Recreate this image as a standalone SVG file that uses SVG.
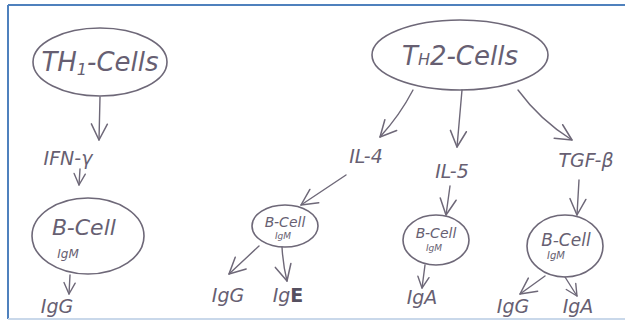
<svg xmlns="http://www.w3.org/2000/svg" width="625" height="327" viewBox="0 0 625 327">
<defs>
<marker id="v" viewBox="0 0 20 20" refX="18" refY="10" markerWidth="20" markerHeight="20" markerUnits="userSpaceOnUse" orient="auto">
<path d="M2,2 L18,10 L2,18" fill="none" stroke="#6e6878" stroke-width="1.5" stroke-linecap="round" stroke-linejoin="round"/>
</marker>
<marker id="vs" viewBox="0 0 20 20" refX="18" refY="10" markerWidth="14" markerHeight="14" markerUnits="userSpaceOnUse" orient="auto">
<path d="M2,2 L18,10 L2,18" fill="none" stroke="#6e6878" stroke-width="2" stroke-linecap="round" stroke-linejoin="round"/>
</marker>
</defs>
<style>
.cell{fill:none;stroke:#6e6878;stroke-width:1.6}
.t{font-family:"DejaVu Sans","Liberation Sans",sans-serif;font-style:italic;fill:#675f72}
.big{font-size:26px}
.lab{font-size:19px}
.sm{font-size:12px}
.c{fill:none;stroke:#6e6878;stroke-width:1.4;stroke-linecap:round}
</style>
<rect x="0" y="0" width="625" height="327" fill="#ffffff"/>
<line x1="8" y1="5" x2="625" y2="5" stroke="#4f81bd" stroke-width="2"/>
<line x1="8" y1="5" x2="8" y2="319" stroke="#4f81bd" stroke-width="2"/>
<line x1="8" y1="319" x2="625" y2="319" stroke="#c9d8ea" stroke-width="2"/>

<g id="th1">
<ellipse class="cell" cx="100" cy="62" rx="67" ry="34"/>
<text class="t big" x="100" y="71" text-anchor="middle">TH<tspan font-size="16" dy="4">1</tspan><tspan dy="-4">-Cells</tspan></text>
</g>
<g id="ifn"><text class="t lab" x="68" y="165" text-anchor="middle">IFN-γ</text></g>
<g id="bcell1">
<ellipse class="cell" cx="88" cy="236" rx="56" ry="38"/>
<text class="t" font-size="22" x="84" y="235" text-anchor="middle">B-Cell</text>
<text class="t sm" x="68" y="258" text-anchor="middle">IgM</text>
</g>
<g id="igg1"><text class="t lab" x="57" y="313" text-anchor="middle">IgG</text></g>

<g id="th2">
<ellipse class="cell" cx="460" cy="55" rx="88" ry="35"/>
<text class="t big" x="460" y="65" text-anchor="middle">T<tspan font-size="16">H</tspan>2-Cells</text>
</g>
<g id="il4"><text class="t lab" x="366" y="163" text-anchor="middle">IL-4</text></g>
<g id="il5"><text class="t lab" x="452" y="178" text-anchor="middle">IL-5</text></g>
<g id="tgf"><text class="t lab" x="586" y="167" text-anchor="middle">TGF-β</text></g>

<g id="bcell2">
<ellipse class="cell" cx="285" cy="226" rx="33" ry="21"/>
<text class="t" font-size="14" x="285" y="227" text-anchor="middle">B-Cell</text>
<text class="t" font-size="9" x="283" y="239" text-anchor="middle">IgM</text>
</g>
<g id="igg2"><text class="t lab" x="228" y="302" text-anchor="middle">IgG</text></g>
<g id="ige"><text class="t lab" x="288" y="302" text-anchor="middle">Ig<tspan font-style="normal" font-weight="bold" fill="#555060">E</tspan></text></g>

<g id="bcell3">
<ellipse class="cell" cx="436" cy="240" rx="33" ry="25"/>
<text class="t" font-size="14" x="436" y="238" text-anchor="middle">B-Cell</text>
<text class="t" font-size="9" x="434" y="251" text-anchor="middle">IgM</text>
</g>
<g id="iga1"><text class="t lab" x="422" y="304" text-anchor="middle">IgA</text></g>

<g id="bcell4">
<ellipse class="cell" cx="565" cy="246" rx="38" ry="31"/>
<text class="t" font-size="17" x="566" y="246" text-anchor="middle">B-Cell</text>
<text class="t" font-size="10" x="556" y="259" text-anchor="middle">IgM</text>
</g>
<g id="igg3"><text class="t lab" x="513" y="313" text-anchor="middle">IgG</text></g>
<g id="iga2"><text class="t lab" x="578" y="313" text-anchor="middle">IgA</text></g>

<g id="connectors">
<path class="c" d="M100,97 L99,140" marker-end="url(#v)"/>
<path class="c" d="M80,169 L79,185" marker-end="url(#vs)"/>
<path class="c" d="M70,275 L69,294" marker-end="url(#vs)"/>
<path class="c" d="M413,90 Q400,115 380,137" marker-end="url(#v)"/>
<path class="c" d="M462,90 L457,147" marker-end="url(#v)"/>
<path class="c" d="M518,90 Q540,120 572,140" marker-end="url(#v)"/>
<path class="c" d="M346,175 L301,205" marker-end="url(#v)"/>
<path class="c" d="M259,246 L229,274" marker-end="url(#v)"/>
<path class="c" d="M282,247 Q283,265 287,281" marker-end="url(#v)"/>
<path class="c" d="M450,186 L446,215" marker-end="url(#v)"/>
<path class="c" d="M425,265 L422,288" marker-end="url(#vs)"/>
<path class="c" d="M579,180 L577,215" marker-end="url(#v)"/>
<path class="c" d="M545,276 L520,294" marker-end="url(#v)"/>
<path class="c" d="M565,277 L577,296" marker-end="url(#vs)"/>
</g>
</svg>
